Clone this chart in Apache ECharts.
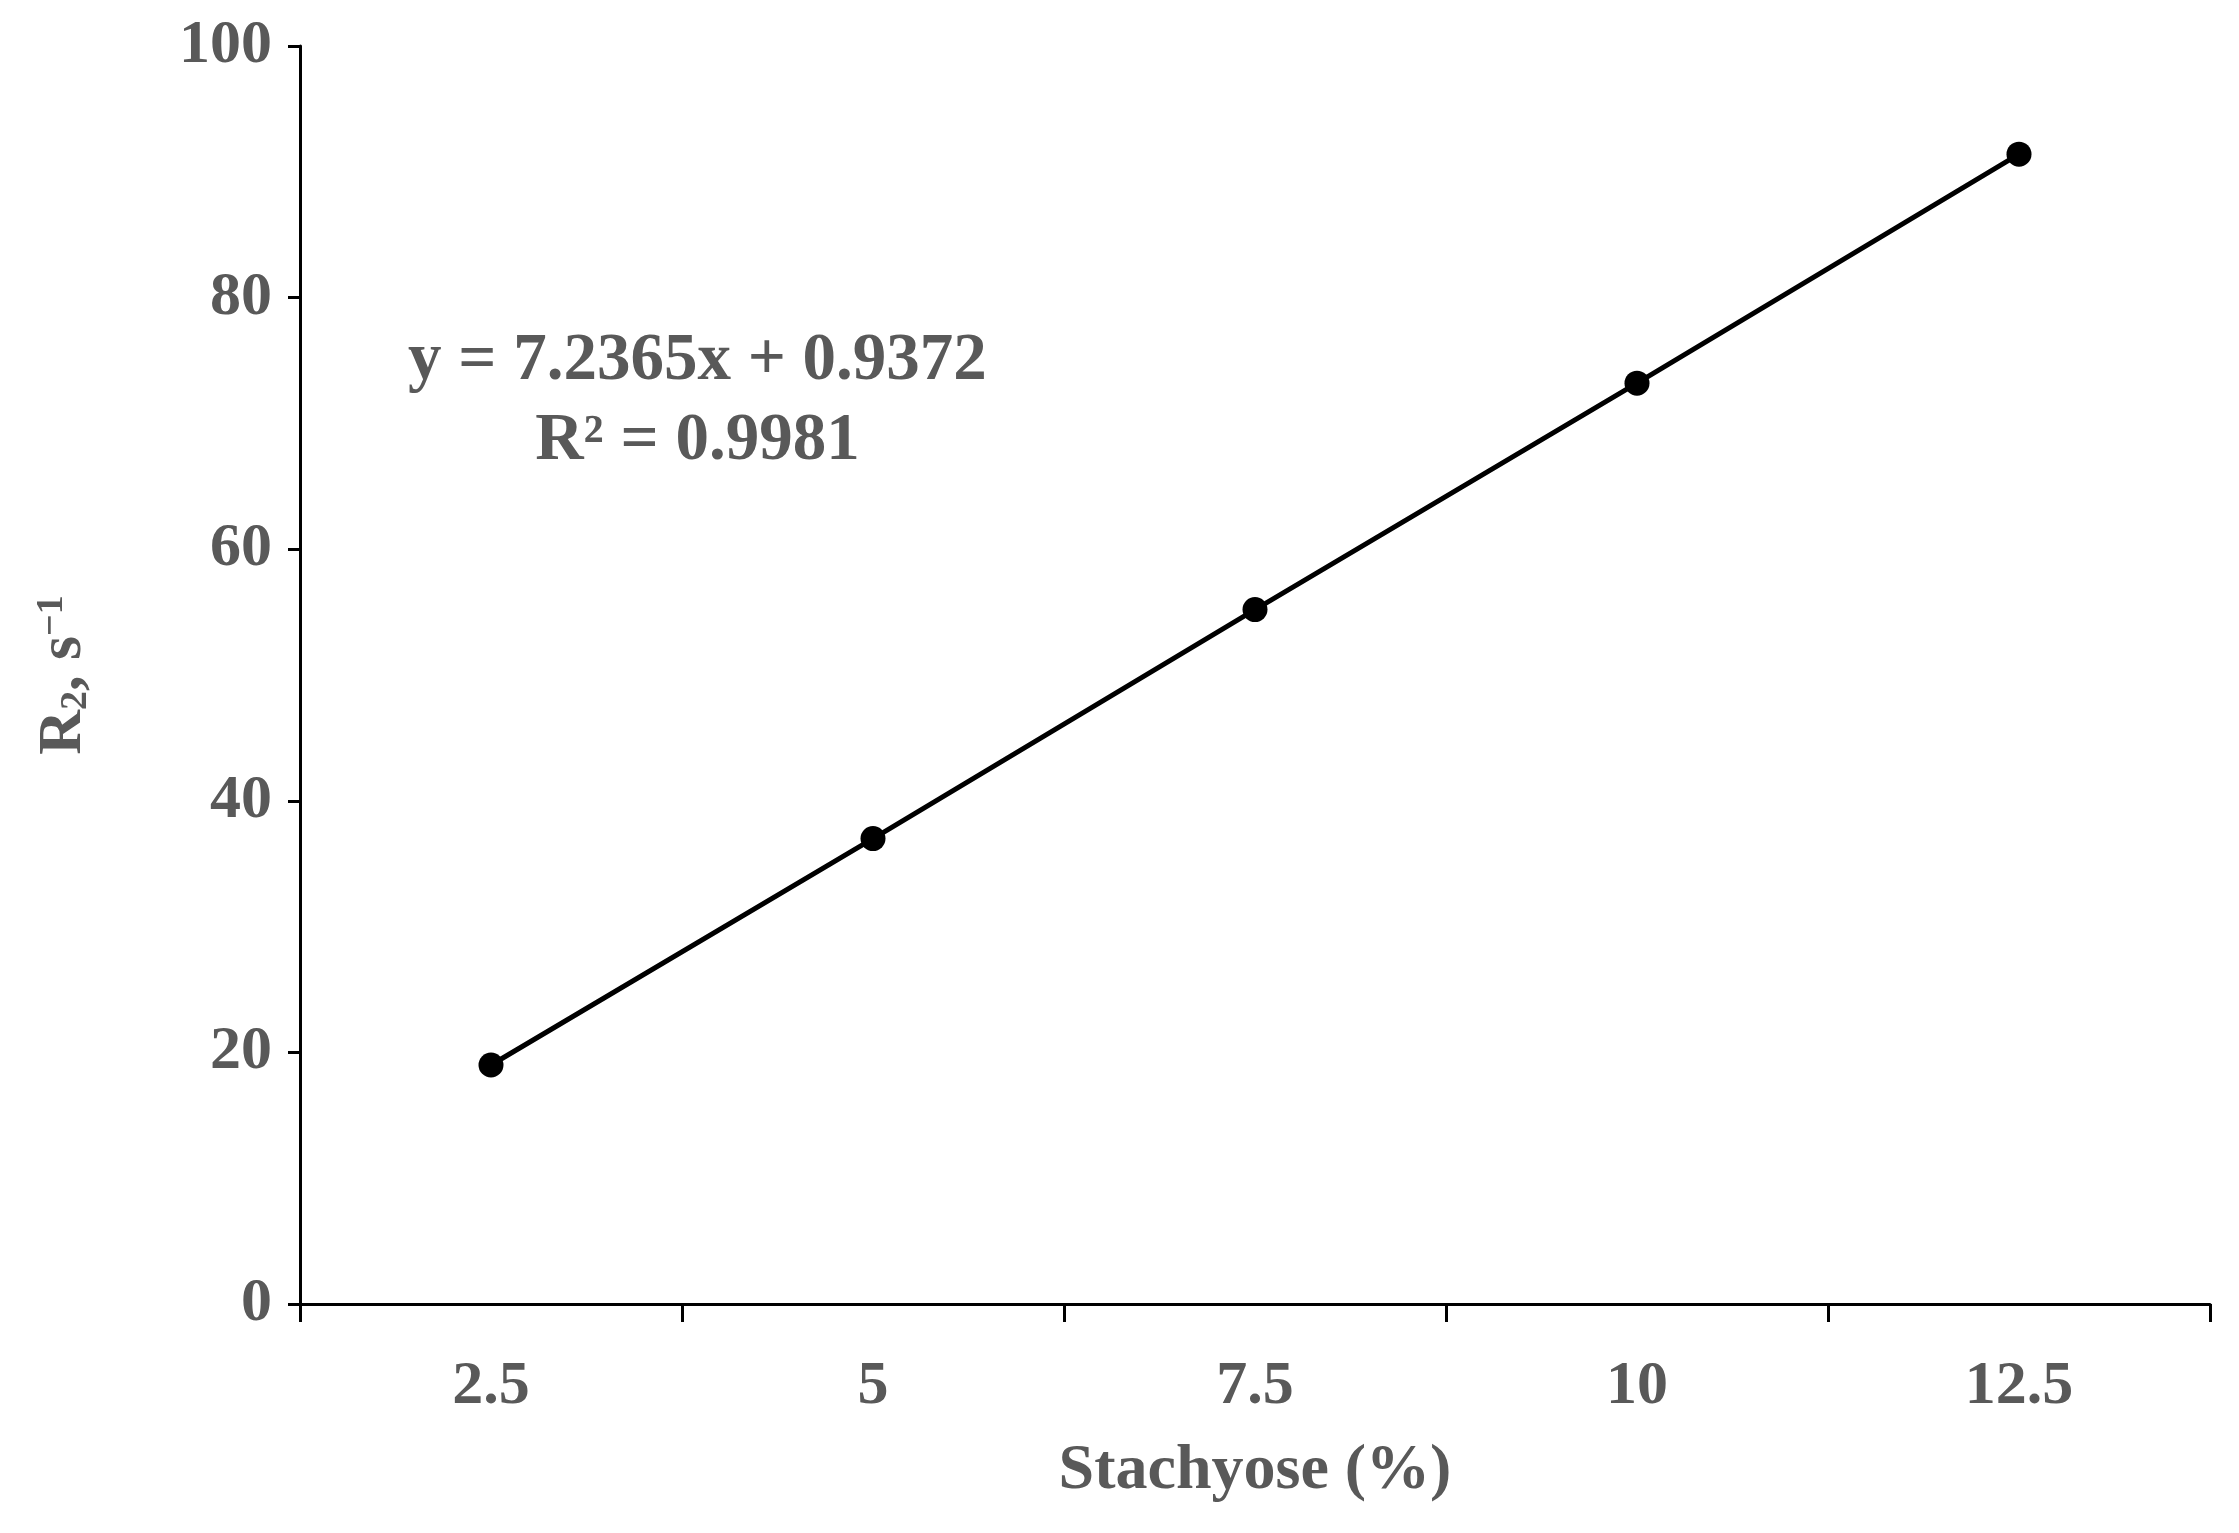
<!DOCTYPE html>
<html style="height: 100%">
<head>
<meta charset="utf-8">
<script src="https://cdn.jsdelivr.net/npm/echarts@6/dist/echarts.min.js"></script>
</head>
<body style="height: 100%; margin: 0; background: #fff">
<div id="container" style="width: 2239px; height: 1533px"></div>
<script>
const categories = ['2.5', '5', '7.5', '10', '12.5'];
const r2Values = [19.0, 37.0, 55.2, 73.2, 91.4];
const equationLines = ['y = 7.2365x + 0.9372', 'R² = 0.9981'];

const myChart = echarts.init(document.getElementById('container'));
const grey = '#595959';
const font = '"Liberation Serif", "Times New Roman", serif';

const option = {
    backgroundColor: '#fff',
    textStyle: { fontFamily: font },
    grid: { left: 300, right: 29, top: 46, bottom: 229 },
    xAxis: {
        type: 'category',
        data: categories,
        boundaryGap: true,
        name: 'Stachyose (%)',
        nameLocation: 'middle',
        nameGap: 135,
        nameTextStyle: { color: grey, fontSize: 64, fontWeight: 'bold', fontFamily: font },
        axisLine: { lineStyle: { color: '#000', width: 3 } },
        axisTick: { show: true, length: 18, lineStyle: { color: '#000', width: 3 } },
        axisLabel: { color: grey, fontSize: 62, fontWeight: 'bold', fontFamily: font, margin: 52 }
    },
    yAxis: {
        type: 'value',
        min: 0, max: 100, interval: 20,
        name: '{b|R}{s|2}{b|, s}{p|−1}',
        nameLocation: 'middle',
        nameGap: 205,
        nameRotate: 90,
        nameTextStyle: {
            rich: {
                b: { color: grey, fontSize: 62, fontWeight: 'bold', fontFamily: font },
                s: { color: grey, fontSize: 38, fontWeight: 'bold', fontFamily: font, verticalAlign: 'bottom', padding: [22, 0, 0, 0] },
                p: { color: grey, fontSize: 38, fontWeight: 'bold', fontFamily: font, verticalAlign: 'top', padding: [0, 0, 22, 0] }
            }
        },
        splitLine: { show: false },
        axisLine: { show: true, lineStyle: { color: '#000', width: 3 } },
        axisTick: { show: true, length: 12, lineStyle: { color: '#000', width: 3 } },
        axisLabel: { color: grey, fontSize: 62, fontWeight: 'bold', fontFamily: font, margin: 28 }
    },
    graphic: [{
        type: 'text',
        left: 408, top: 322,
        style: {
            text: equationLines.join('\n'),
            fill: grey,
            font: 'bold 67px ' + font,
            textAlign: 'center',
            lineHeight: 80
        }
    }],
    series: [{
        type: 'line',
        data: r2Values,
        symbol: 'circle',
        symbolSize: 25,
        itemStyle: { color: '#000' },
        lineStyle: { color: '#000', width: 5 }
    }]
};
myChart.setOption(option, true);
</script>
</body>
</html>
